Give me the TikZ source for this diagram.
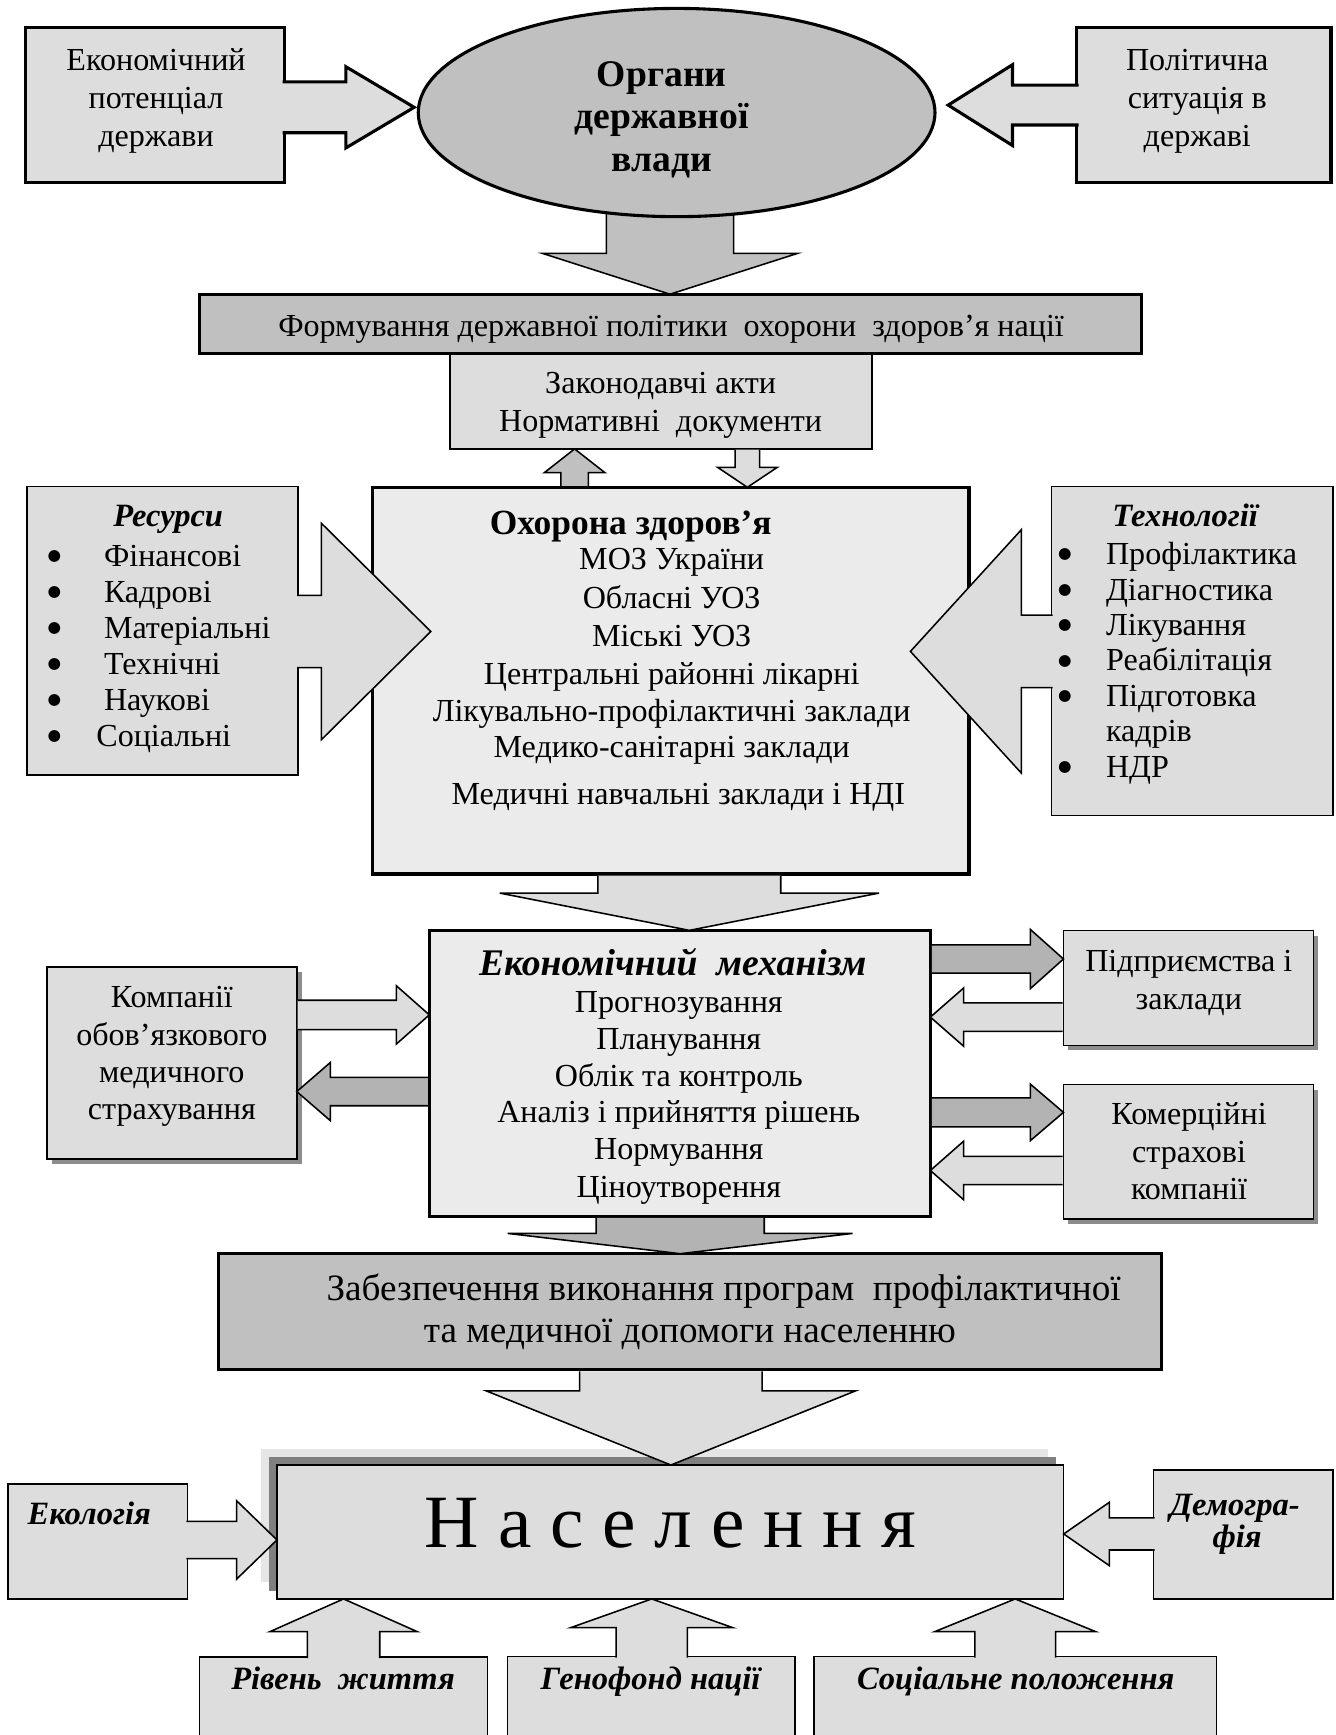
\documentclass[tikz,border=0pt]{standalone}
\usepackage{fontspec}
\setmainfont{Liberation Serif}
\newfontfamily\bulfont{DejaVu Sans}
\usetikzlibrary{calc,fit,shapes.geometric}

\definecolor{cLight}{HTML}{DDDDDD}
\definecolor{cMid}{HTML}{C0C0C0}
\definecolor{cPale}{HTML}{EBEBEB}
\definecolor{cDark}{HTML}{B3B3B3}
\definecolor{cShadow}{HTML}{8C8C8C}
\definecolor{cDeep}{HTML}{808080}
\definecolor{cBand}{HTML}{E6E6E6}

\newcommand{\fReg}{\fontsize{14.5}{17}\selectfont}
\newcommand{\fRegBig}{\fontsize{16.8}{19}\selectfont}
\newcommand{\fBold}{\fontsize{16}{18}\selectfont\bfseries}
\newcommand{\fBoldBig}{\fontsize{17}{19}\selectfont\bfseries}
\newcommand{\fBI}{\fontsize{14.7}{17}\selectfont\bfseries\itshape}
\newcommand{\fBIbig}{\fontsize{17}{19}\selectfont\bfseries\itshape}
\newcommand{\fBul}{\bulfont\fontsize{7}{7}\selectfont}
\newcommand{\fHuge}{\fontsize{34}{38}\selectfont}

% horizontal block arrow: style, start node anchor, tip, shaft half, head half, head length (signed), start offset
\newcommand{\harr}[7]{%
  \filldraw[#1] ($(#2 |- #3)+({#7},{-(#4)})$) -- ($(#3)+({-(#6)},{-(#4)})$) -- ($(#3)+({-(#6)},{-(#5)})$) -- (#3)
   -- ($(#3)+({-(#6)},{#5})$) -- ($(#3)+({-(#6)},{#4})$) -- ($(#2 |- #3)+({#7},{#4})$);}
% vertical block arrow
\newcommand{\varr}[7]{%
  \filldraw[#1] ($(#2 -| #3)+({-(#4)},{#7})$) -- ($(#3)+({-(#4)},{-(#6)})$) -- ($(#3)+({-(#5)},{-(#6)})$) -- (#3)
   -- ($(#3)+({#5},{-(#6)})$) -- ($(#3)+({#4},{-(#6)})$) -- ($(#2 -| #3)+({#4},{#7})$);}

\begin{document}
\begin{tikzpicture}[x=0.5pt, y=-0.5pt,
  thickbox/.style={draw=black, line width=1.4pt, inner sep=0pt, outer sep=0pt},
  thinbox/.style={draw=black, line width=0.7pt, inner sep=0pt, outer sep=0pt},
  thickline/.style={draw=black, line width=1.4pt, line join=miter},
  thinline/.style={draw=black, line width=0.7pt, line join=miter},
  txt/.style={anchor=base, inner sep=0pt, font=\fReg},
  txtbig/.style={anchor=base, inner sep=0pt, font=\fRegBig},
  txtl/.style={anchor=base west, inner sep=0pt, font=\fReg},
  bul/.style={anchor=center, inner sep=0pt, font=\fBul},
  head/.style={anchor=base, inner sep=0pt, font=\fBold},
  headbig/.style={anchor=base, inner sep=0pt, font=\fBoldBig},
  bihead/.style={anchor=base, inner sep=0pt, font=\fBI},
  biheadbig/.style={anchor=base, inner sep=0pt, font=\fBIbig},
  ]
\useasboundingbox (0,0) rectangle (1207,1568);
\clip (0,0) rectangle (1207,1568);
\fill[white] (0,0) rectangle (1207,1568);

% ---------- boxes ----------
\node[thickbox, fill=cLight, fit={(23,24.7) (257,165)}] (ecp) {};
\node[thickbox, fill=cLight, fit={(973.2,24.7) (1202.9,165)}] (pol) {};
\coordinate (oc) at (611.5,101.7);
\coordinate (tOB) at (605.5,265.9);
\varr{thinline, fill=cMid}{oc}{tOB}{57.5}{115.25}{36.9}{0}
\node[ellipse, thickbox, fill=cMid, minimum width=233.5pt, minimum height=94.1pt] (organ) at (oc) {};
\node[thinbox, fill=cLight, fit={(406.6,319.3) (787.9,405.7)}] (law) {};
\node[thickbox, fill=cMid, fit={(180.3,265.9) (1031.3,319.3)}] (form) {};
\node[thickbox, fill=cPale, fit={(336.8,440.4) (875.7,789.9)}] (ohor) {};
\node[thinbox, fill=cLight, fit={(24.2,439.6) (269.5,700.2)}] (res) {};
\node[thinbox, fill=cLight, fit={(950.3,439.6) (1204.5,736.9)}] (tech) {};
\node[thickbox, fill=cPale, fit={(388,840.8) (840.8,1099.2)}] (ekm) {};
\fill[cShadow] (46.9,878.4) rectangle (272.7,1051.9);
\node[thinbox, fill=cLight, fit={(42.4,873.9) (268.2,1047.4)}] (komp) {};
\fill[cShadow] (965.6,845.6) rectangle (1191.4,949.2);
\node[thinbox, fill=cLight, fit={(961.1,841.1) (1186.9,944.7)}] (pidp) {};
\fill[cShadow] (965.6,984.7) rectangle (1191.4,1106.1);
\node[thinbox, fill=cLight, fit={(961.1,980.2) (1186.9,1101.6)}] (kom) {};
\node[thickbox, fill=cMid, fit={(197.7,1133) (1049.3,1238)}] (zab) {};
\fill[cBand] (236.3,1309.5) rectangle (947.2,1430);
\fill[cDeep] (243.4,1316.5) rectangle (954.5,1437.5);
\node[thinbox, fill=cLight, fit={(250.3,1324) (961.3,1445)}] (nas) {};
\node[thinbox, fill=cLight, fit={(7.3,1341) (169.4,1445)}] (eco) {};
\node[thinbox, fill=cLight, fit={(1042.5,1328.7) (1204.5,1445)}] (demo) {};
\node[thinbox, fill=cLight, fit={(180.3,1497.6) (440.5,1600)}] (riv) {};
\node[thinbox, fill=cLight, fit={(458.7,1497) (718.5,1600)}] (gen) {};
\node[thinbox, fill=cLight, fit={(735.4,1497) (1099.5,1600)}] (soc) {};

% ---------- block arrows ----------
\coordinate (tA) at (374.3,97);
\harr{thickline, fill=cLight}{ecp.east}{tA}{23}{36.7}{61.7}{-1.6}
\coordinate (tB) at (856.9,95);
\harr{thickline, fill=cLight}{pol.west}{tB}{18}{36.5}{-58.1}{1.6}
\coordinate (tUp) at (law.south -| 519.3,0);
\varr{thinline, fill=cMid}{ohor.north}{tUp}{12.35}{27.3}{-21.4}{-1.4}
\coordinate (tDn) at (ohor.north -| 675.45,0);
\varr{thinline, fill=cLight}{law.south}{tDn}{11.05}{27.05}{18.1}{0.7}
\coordinate (tRes) at (389.3,570.7);
\harr{thinline, fill=cLight}{res.east}{tRes}{32.7}{97.85}{98.9}{-1}
\coordinate (tTech) at (822.8,588.7);
\harr{thinline, fill=cLight}{tech.west}{tTech}{32.7}{109.95}{-100.2}{1}
\coordinate (tOE) at (ekm.north -| 623,0);
\varr{thinline, fill=cLight}{ohor.south}{tOE}{82.6}{171.45}{33.7}{1.4}

\coordinate (tKE) at (ekm.west |- 0,917.2);
\harr{thinline, fill=cLight}{komp.east}{tKE}{13.25}{26.35}{29.8}{0.7}
\coordinate (tEK) at (komp.east |- 0,986.5);
\harr{thinline, fill=cDark}{ekm.west}{tEK}{12.8}{26.25}{-30.3}{-1.4}
\coordinate (tEP) at (pidp.west |- 0,866.7);
\harr{thinline, fill=cDark}{ekm.east}{tEP}{12.8}{26.8}{30}{1.4}
\coordinate (tPE) at (ekm.east |- 0,919.2);
\harr{thinline, fill=cLight}{pidp.west}{tPE}{12.8}{26.35}{-30.1}{-0.7}
\coordinate (tEC) at (kom.west |- 0,1005.3);
\harr{thinline, fill=cDark}{ekm.east}{tEC}{13.1}{25.6}{30}{1.4}
\coordinate (tCE) at (ekm.east |- 0,1057.8);
\harr{thinline, fill=cLight}{kom.west}{tCE}{12.8}{26.4}{-30}{-0.7}

\coordinate (tEZ) at (zab.north -| 614.7,0);
\varr{thinline, fill=cDark}{ekm.south}{tEZ}{76}{155.85}{18.3}{1.4}
\coordinate (tZN) at (nas.north -| 606.3,0);
\varr{thinline, fill=cLight}{zab.south}{tZN}{82.45}{167.1}{67.1}{1.4}
\coordinate (tEco) at (nas.west |- 0,1391.7);
\harr{thinline, fill=cLight}{eco.east}{tEco}{16.85}{35.45}{36.5}{-1}
\coordinate (tDemo) at (nas.east |- 0,1386.3);
\harr{thinline, fill=cLight}{demo.west}{tDemo}{14.5}{28.6}{-41.2}{1}
\coordinate (tRiv) at (nas.south -| 310.5,0);
\varr{thinline, fill=cLight}{riv.north}{tRiv}{32.7}{66.6}{-29.6}{1}
\coordinate (tGen) at (nas.south -| 589,0);
\varr{thinline, fill=cLight}{gen.north}{tGen}{32.2}{73.05}{-25.9}{1}
\coordinate (tSoc) at (nas.south -| 917.5,0);
\varr{thinline, fill=cLight}{soc.north}{tSoc}{36.45}{72.8}{-29.6}{1}

% ---------- texts ----------
\node[txt] (ecp1) at (141,64) {Економічний};
\node[txt] (ecp2) at (141,98.5) {потенціал};
\node[txt] (ecp3) at (141,132.5) {держави};
\node[txt] (pol1) at (1082,64) {Політична};
\node[txt] (pol2) at (1082,98.5) {ситуація в};
\node[txt] (pol3) at (1082,132.5) {державі};
\node[headbig] (org1) at (598,78) {Органи};
\node[headbig] (org2) at (598,116.5) {державної};
\node[headbig] (org3) at (598,155) {влади};
\node[txt] (formt) at (606.5,304) {Формування державної політики\ \ охорони\ \ здоров’я нації};
\node[txt] (law1) at (597,355.4) {Законодавчі акти};
\node[txt] (law2) at (597,390) {Нормативні\ \ документи};

\node[head] (oh0) at (570,482.8) {Охорона здоров’я};
\node[txt] (oh1) at (607,514.9) {МОЗ України};
\node[txt] (oh2) at (607,549.5) {Обласні УОЗ};
\node[txt] (oh3) at (607,584.2) {Міські УОЗ};
\node[txt] (oh4) at (607,618.8) {Центральні районні лікарні};
\node[txt] (oh5) at (607,652) {Лікувально-профілактичні заклади};
\node[txt] (oh6) at (607,685) {Медико-санітарні заклади};
\node[txt] (oh7) at (613,727.2) {Медичні навчальні заклади і НДІ};

\node[bihead] (res0) at (152,476) {Ресурси};
\node[bul] (rb1) at (49.2,502.9) {●};
\node[bul] (rb2) at (49.2,535.4) {●};
\node[bul] (rb3) at (49.2,567.9) {●};
\node[bul] (rb4) at (49.2,600.4) {●};
\node[bul] (rb5) at (49.2,632.9) {●};
\node[bul] (rb6) at (49.2,665.4) {●};
\node[txtl] (r1) at (93.6,511.9) {Фінансові};
\node[txtl] (r2) at (93.6,544.4) {Кадрові};
\node[txtl] (r3) at (93.6,576.9) {Матеріальні};
\node[txtl] (r4) at (93.6,609.4) {Технічні};
\node[txtl] (r5) at (93.6,641.9) {Наукові};
\node[txtl] (r6) at (86.7,674.4) {Соціальні};

\node[bihead] (te0) at (1071,476) {Технології};
\node[bul] (tb1) at (962.3,501.4) {●};
\node[bul] (tb2) at (962.3,533.4) {●};
\node[bul] (tb3) at (962.3,565.4) {●};
\node[bul] (tb4) at (962.3,597.4) {●};
\node[bul] (tb5) at (962.3,629.4) {●};
\node[bul] (tb6) at (962.3,693.4) {●};
\node[txtl] (t1) at (999.2,510.4) {Профілактика};
\node[txtl] (t2) at (999.2,542.4) {Діагностика};
\node[txtl] (t3) at (999.2,574.4) {Лікування};
\node[txtl] (t4) at (999.2,606.4) {Реабілітація};
\node[txtl] (t5) at (999.2,638.4) {Підготовка};
\node[txtl] (t5b) at (999.2,670.4) {кадрів};
\node[txtl] (t6) at (999.2,702.4) {НДР};

\node[biheadbig] (ek0) at (608,882) {Економічний\ \ механізм};
\node[txt] (ek1) at (613.5,915.4) {Прогнозування};
\node[txt] (ek2) at (613.5,948.6) {Планування};
\node[txt] (ek3) at (613.5,981.7) {Облік та контроль};
\node[txt] (ek4) at (613.5,1014.8) {Аналіз і прийняття рішень};
\node[txt] (ek5) at (613.5,1048) {Нормування};
\node[txt] (ek6) at (613.5,1082.6) {Ціноутворення};

\node[txt] (kp1) at (155.3,910.9) {Компанії};
\node[txt] (kp2) at (155.3,945) {обов’язкового};
\node[txt] (kp3) at (155.3,978) {медичного};
\node[txt] (kp4) at (155.3,1011.8) {страхування};

\node[txt] (pp1) at (1074.4,877.8) {Підприємства і};
\node[txt] (pp2) at (1074.4,912.4) {заклади};
\node[txt] (km1) at (1074.6,1016.3) {Комерційні};
\node[txt] (km2) at (1074.6,1051) {страхові};
\node[txt] (km3) at (1074.6,1084.1) {компанії};

\node[txtbig] (zb1) at (654,1175) {Забезпечення виконання програм\ \ профілактичної};
\node[txtbig] (zb2) at (623.5,1213.5) {та медичної допомоги населенню};

\node[anchor=base, inner sep=0pt, font=\fHuge] (nast) at (606,1398.5) {Н а с е л е н н я};
\node[bihead] (ecot) at (80.7,1377.5) {Екологія};
\node[bihead] (dem1) at (1116,1369.9) {Демогра-};
\node[bihead] (dem2) at (1118,1398.9) {фія};
\node[bihead] (rivt) at (310,1527.3) {Рівень\ \ життя};
\node[bihead] (gent) at (588,1527.3) {Генофонд нації};
\node[bihead] (soct) at (917.9,1527.3) {Соціальне положення};
\end{tikzpicture}
\end{document}
